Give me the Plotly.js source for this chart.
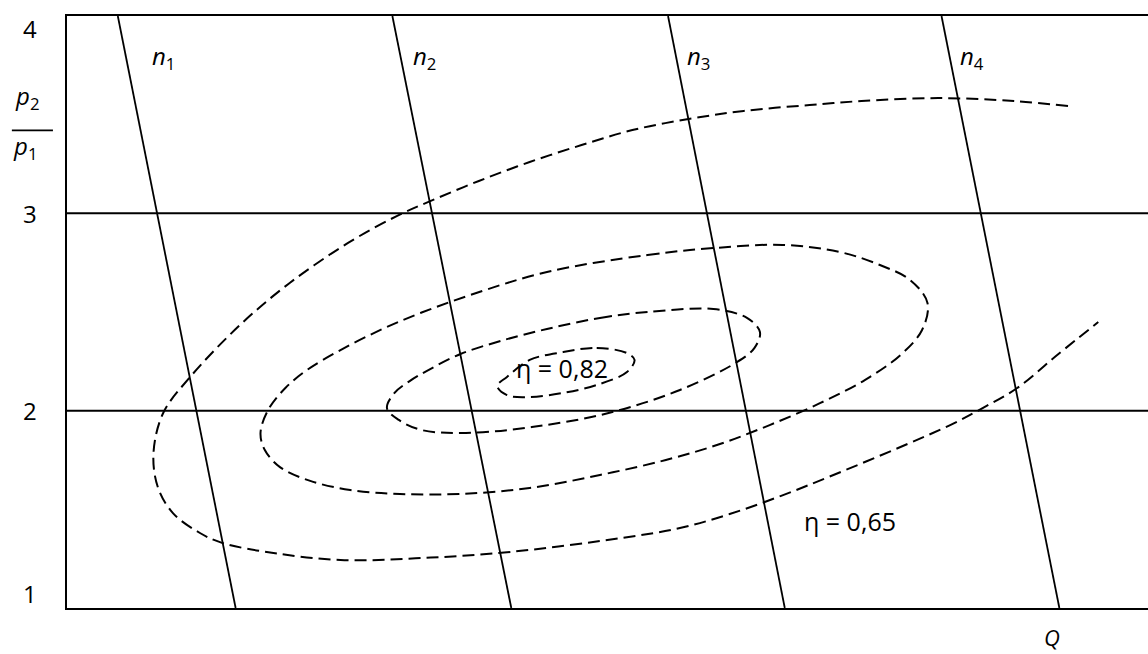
<!DOCTYPE html>
<html>
<head>
<meta charset="utf-8">
<script src="https://cdn.plot.ly/plotly-3.0.1.min.js"></script>
<style>
  html, body { margin: 0; padding: 0; background: #fff; }
  #chart { width: 1148px; height: 654px; }
</style>
</head>
<body>
<div id="chart"></div>
<script>
// Pressure-ratio axis values
const pressureTicks = [1, 2, 3, 4];
const pressureGrid = [2, 3];

// Constant-speed lines n1..n4: flow Q at the top (p2/p1 = 4) and bottom (p2/p1 = 1)
const speedIndex = ['1', '2', '3', '4'];
const speedQTop = [0.47, 3.01, 5.56, 8.09];
const speedQBottom = [1.56, 4.11, 6.64, 9.18];

// Efficiency contours (Q, p2/p1)
const eta082Q = [4.59, 4.90, 5.18, 5.25, 5.18, 4.90, 4.59, 4.28, 4.07, 3.98, 4.07, 4.28, 4.59];
const eta082P = [2.297, 2.318, 2.292, 2.257, 2.196, 2.130, 2.090, 2.069, 2.079, 2.125, 2.171, 2.257, 2.297];

const etaInnerQ = [4.44, 4.93, 5.37, 5.98, 6.29, 6.41, 6.36, 6.20, 5.67, 5.01, 4.30, 3.69, 3.28, 3.07, 2.96, 3.03, 3.17, 3.36, 3.64, 4.01, 4.44];
const etaInnerP = [2.414, 2.470, 2.500, 2.515, 2.470, 2.399, 2.318, 2.247, 2.105, 1.988, 1.917, 1.887, 1.902, 1.953, 2.013, 2.090, 2.150, 2.211, 2.287, 2.353, 2.414];

const etaOuterQ = [4.44, 5.37, 5.98, 6.62, 7.15, 7.52, 7.80, 7.96, 7.91, 7.71, 7.38, 6.97, 6.50, 6.04, 5.54, 4.93, 4.28, 3.64, 3.08, 2.62, 2.25, 1.97, 1.83, 1.79, 1.86, 2.02, 2.22, 2.53, 2.90, 3.27, 3.73, 4.44];
const etaOuterP = [2.703, 2.789, 2.824, 2.840, 2.804, 2.738, 2.662, 2.546, 2.409, 2.282, 2.155, 2.039, 1.927, 1.831, 1.750, 1.674, 1.608, 1.578, 1.578, 1.598, 1.644, 1.714, 1.801, 1.887, 2.003, 2.115, 2.206, 2.307, 2.409, 2.495, 2.586, 2.703];

const eta065Q = [9.26, 8.76, 8.06, 7.35, 6.87, 6.26, 5.75, 5.23, 4.76, 4.28, 3.81, 3.36, 3.05, 2.60, 2.06, 1.60, 1.14, 0.89, 0.80, 0.84, 0.98, 1.23, 1.44, 1.91, 2.53, 3.28, 4.10, 5.13, 5.67, 6.13, 6.60, 7.09, 7.71, 8.17, 8.47, 8.79, 9.16, 9.54];
const eta065P = [3.544, 3.569, 3.584, 3.569, 3.549, 3.519, 3.478, 3.422, 3.346, 3.260, 3.164, 3.062, 2.986, 2.850, 2.647, 2.434, 2.171, 1.988, 1.785, 1.613, 1.481, 1.380, 1.329, 1.279, 1.243, 1.253, 1.284, 1.355, 1.405, 1.476, 1.567, 1.674, 1.816, 1.927, 2.013, 2.115, 2.282, 2.449];

const etaLabels = ['η = 0,82', 'η = 0,65'];

const FONT = "'Open Sans', 'DejaVu Sans', sans-serif";
const dashStyle = { color: '#000', width: 2, dash: '12px,6px', shape: 'spline', smoothing: 1 };

const traces = [];

// horizontal pressure-ratio lines
pressureGrid.forEach(p => {
  traces.push({ x: [0, 10], y: [p, p], mode: 'lines', line: { color: '#000', width: 2 }, hoverinfo: 'skip' });
});

// speed lines
speedQTop.forEach((q, i) => {
  traces.push({ x: [q, speedQBottom[i]], y: [4, 1], mode: 'lines', line: { color: '#000', width: 1.8 }, hoverinfo: 'skip' });
});

// efficiency contours
[[eta082Q, eta082P], [etaInnerQ, etaInnerP], [etaOuterQ, etaOuterP], [eta065Q, eta065P]].forEach(([q, p]) => {
  traces.push({ x: q, y: p, mode: 'lines', line: dashStyle, hoverinfo: 'skip' });
});

const annotations = [];

// pressure tick labels (1 and 4 sit just inside the frame)
const tickShift = { 1: 15, 2: 0, 3: 0, 4: -12 };
pressureTicks.forEach(t => {
  annotations.push({
    text: String(t), x: -0.034, xref: 'paper', y: t, yref: 'y', yshift: tickShift[t],
    showarrow: false, xanchor: 'center', yanchor: 'middle',
    font: { family: FONT, size: 24, color: '#000' }
  });
});

// speed labels
const speedLabelQ = [0.89, 3.31, 5.84, 8.37];
speedIndex.forEach((s, i) => {
  annotations.push({
    text: '<i>n</i><sub>' + s + '</sub>', x: speedLabelQ[i], y: 3.79, showarrow: false,
    xanchor: 'center', yanchor: 'middle',
    font: { family: FONT, size: 24, color: '#000' }
  });
});

// efficiency labels
annotations.push({ text: etaLabels[0], x: 4.58, y: 2.215, showarrow: false, xanchor: 'center', yanchor: 'middle',
  font: { family: FONT, size: 25, color: '#000' } });
annotations.push({ text: etaLabels[1], x: 7.24, y: 1.44, showarrow: false, xanchor: 'center', yanchor: 'middle',
  font: { family: FONT, size: 25, color: '#000' } });

// axis titles: p2 / p1 and Q
annotations.push({ text: '<i>p</i><sub>2</sub>', x: -0.037, xref: 'paper', y: 3.59, showarrow: false,
  xanchor: 'center', yanchor: 'middle', font: { family: FONT, size: 24, color: '#000' } });
annotations.push({ text: '<i>p</i><sub>1</sub>', x: -0.039, xref: 'paper', y: 3.335, showarrow: false,
  xanchor: 'center', yanchor: 'middle', font: { family: FONT, size: 24, color: '#000' } });
annotations.push({ text: '<i>Q</i>', x: 9.11, y: 0, yref: 'paper', yshift: -29, showarrow: false,
  xanchor: 'center', yanchor: 'middle', font: { family: FONT, size: 22, color: '#000' } });

const layout = {
  width: 1148, height: 654,
  margin: { l: 67, r: 0, t: 16, b: 46 },
  paper_bgcolor: '#fff', plot_bgcolor: '#fff',
  showlegend: false,
  xaxis: { range: [0, 10], showgrid: false, zeroline: false, showticklabels: false, ticks: '',
           showline: true, mirror: true, linecolor: '#000', linewidth: 2, fixedrange: true },
  yaxis: { range: [1, 4], showgrid: false, zeroline: false, showticklabels: false, ticks: '',
           showline: true, mirror: false, linecolor: '#000', linewidth: 2, fixedrange: true },
  shapes: [
    // fraction bar between p2 and p1
    { type: 'line', xref: 'paper', yref: 'y', x0: -0.051, x1: -0.013, y0: 3.42, y1: 3.42,
      line: { color: '#000', width: 1.8 } }
  ],
  annotations: annotations
};

Plotly.newPlot('chart', traces, layout, { staticPlot: true, displayModeBar: false });
</script>
</body>
</html>
